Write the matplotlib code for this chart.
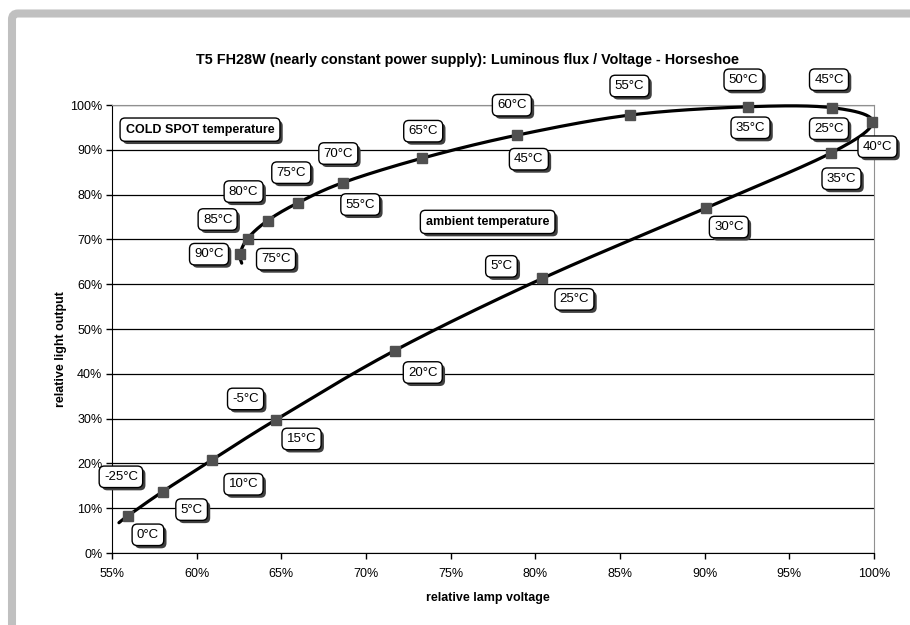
import numpy as np
import matplotlib
matplotlib.use("Agg")
import matplotlib.pyplot as plt
import matplotlib.patheffects as pe
from matplotlib.patches import FancyBboxPatch
from matplotlib.transforms import IdentityTransform
from matplotlib.ticker import FuncFormatter

plt.rcParams['font.family'] = ['Liberation Sans', 'DejaVu Sans']

# measured points: relative lamp voltage (%) / relative light output (%)
volt = [55.94, 57.99, 60.88, 64.66, 71.70, 80.42, 90.07, 97.49, 99.91, 97.52,
        92.53, 85.62, 78.91, 73.32, 68.66, 66.00, 64.19, 63.01, 62.56]
flux = [8.3, 13.7, 20.7, 29.7, 45.2, 61.3, 77.0, 89.35, 96.27, 99.4,
        99.6, 97.77, 93.26, 88.13, 82.7, 78.2, 74.2, 70.2, 66.7]
# the drawn curve runs a little past the first and last marker
line_start = (55.41, 6.76)
line_end = (62.66, 64.7)

# cold spot temperatures (upper/left labels) and ambient temperatures (lower/right)
cold_text = ['-25°C', '-5°C', '5°C', '65°C', '60°C', '55°C', '50°C', '45°C',
             '70°C', '75°C', '80°C', '85°C', '90°C']
cold_idx = [0, 3, 5, 13, 12, 11, 10, 9, 14, 15, 16, 17, 18]
amb_text = ['0°C', '5°C', '10°C', '15°C', '20°C', '25°C', '30°C', '35°C',
            '40°C', '25°C', '35°C', '45°C', '55°C', '75°C']
amb_idx = [0, 1, 2, 3, 4, 5, 6, 7, 8, 9, 10, 12, 14, 18]

# label offsets from the marker, pixels (right, down)
cold_off = [(-6, -38), (-29, -20), (-40, -11), (2, -26), (-4, -29), (0, -28),
            (-3, -26), (-2, -27), (-4, -28), (-6, -29), (-23, -28), (-29, -18),
            (-30, 1)]
amb_off = [(21, 20), (30, 19), (33, 25), (27, 20), (29, 23), (33, 22), (24, 20),
           (11, 27), (6, 26), (-2, 22), (4, 22), (13, 25), (18, 23), (37, 6)]

title = "T5 FH28W (nearly constant power supply): Luminous flux / Voltage - Horseshoe"


def smooth(ax, xs, ys, n=24):
    # catmull-rom through the points, done in screen space like excel's smoothed line
    pts = ax.transData.transform(np.column_stack([xs, ys]))
    P = np.vstack([2 * pts[0] - pts[1], pts, 2 * pts[-1] - pts[-2]])
    t = np.linspace(0, 1, n)[:, None]
    out = []
    for i in range(1, len(P) - 2):
        p0, p1, p2, p3 = P[i - 1], P[i], P[i + 1], P[i + 2]
        seg = 0.5 * (2 * p1 + (-p0 + p2) * t + (2 * p0 - 5 * p1 + 4 * p2 - p3) * t ** 2
                     + (-p0 + 3 * p1 - 3 * p2 + p3) * t ** 3)
        out.append(seg)
    return ax.transData.inverted().transform(np.vstack(out))


def add_shadow(t):
    t.get_bbox_patch().set_path_effects([
        pe.SimplePatchShadow(offset=(2, -2), shadow_rgbFace='0.25', alpha=1),
        pe.Normal()])


def boxed(ax, text, xy, off):
    a = ax.annotate(text, xy=xy, xytext=(off[0] - 1, -(off[1] - 1)),
                    textcoords='offset pixels', ha='center', va='center',
                    fontsize=9.5, zorder=5,
                    bbox=dict(boxstyle='round,pad=0.36,rounding_size=0.4',
                              fc='white', ec='black', lw=1.0))
    add_shadow(a)
    return a


fig = plt.figure(figsize=(9.1, 6.25), dpi=100)

# grey frame of the chart object
frame = FancyBboxPatch((12, -60), 1000, 611.5 + 60, boxstyle='round,pad=0,rounding_size=6',
                       transform=IdentityTransform(), fc='none', ec='#c0c0c0', lw=5.8)
fig.patches.append(frame)

ax = fig.add_axes([112 / 910, 1 - 553 / 625, 762 / 910, 448 / 625])
ax.set_xlim(55, 100)
ax.set_ylim(0, 100)
ax.set_xticks(np.arange(55, 101, 5))
ax.set_yticks(np.arange(0, 101, 10))
ax.xaxis.set_major_formatter(FuncFormatter(lambda v, p: f"{v:.0f}%"))
ax.yaxis.set_major_formatter(FuncFormatter(lambda v, p: f"{v:.0f}%"))
ax.tick_params(axis='both', direction='out', length=4, width=1, color='black',
               labelsize=9)
ax.tick_params(axis='x', pad=7)
ax.tick_params(axis='y', pad=3)
ax.set_axisbelow(True)
ax.yaxis.grid(True, color='black', lw=0.9)
for s in ['left', 'bottom']:
    ax.spines[s].set_color('black')
for s in ['top', 'right']:
    ax.spines[s].set_color('#909090')

lx = [line_start[0]] + volt + [line_end[0]]
ly = [line_start[1]] + flux + [line_end[1]]
curve = smooth(ax, lx, ly)
ax.plot(curve[:, 0], curve[:, 1], color='black', lw=2.3, solid_capstyle='round',
        clip_on=False, zorder=3)
ax.plot(volt, flux, ls='none', marker='s', ms=7, color='#505050', mec='#505050',
        clip_on=False, zorder=4)

for txt, i, off in zip(cold_text, cold_idx, cold_off):
    boxed(ax, txt, (volt[i], flux[i]), off)
for txt, i, off in zip(amb_text, amb_idx, amb_off):
    boxed(ax, txt, (volt[i], flux[i]), off)

for txt, x, y in [("COLD SPOT temperature", 0.1155, 0.945),
                  ("ambient temperature", 0.493, 0.739)]:
    t = ax.text(x, y, txt, transform=ax.transAxes, ha='center', va='center',
                fontsize=9, weight='bold', zorder=5,
                bbox=dict(boxstyle='round,pad=0.45,rounding_size=0.4',
                          fc='white', ec='black', lw=1.0))
    add_shadow(t)

ax.set_xlabel("relative lamp voltage", fontsize=9, weight='bold')
ax.set_ylabel("relative light output", fontsize=9, weight='bold')
ax.xaxis.set_label_coords(0.493, -0.087)
ax.yaxis.set_label_coords(-0.059, 0.455)

fig.text(468 / 910, 1 - 60 / 625, title, ha='center', va='center',
         fontsize=10.4, weight='bold')

fig.savefig("out.png", dpi=100)
